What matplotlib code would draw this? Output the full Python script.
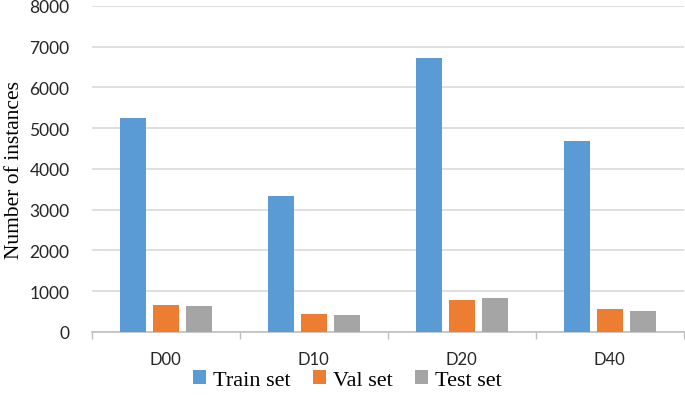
import numpy as np
import matplotlib
matplotlib.use("Agg")
import matplotlib.pyplot as plt

# values
groups = ["D00", "D10", "D20", "D40"]
train = [5250, 3340, 6715, 4695]
val = [655, 440, 785, 565]
test = [640, 425, 834, 515]
series_names = ["Train set", "Val set", "Test set"]
colors = ["#5B9BD5", "#ED7D31", "#A5A5A5"]

fig = plt.figure(figsize=(6.85, 4.02), dpi=100)
ax = fig.add_axes([0.134, 0.172, 0.864, 0.811])

x = np.arange(len(groups))
w = 0.176
step = 0.223
for i, (vals, name, c) in enumerate(zip([train, val, test], series_names, colors)):
    ax.bar(x + (i - 1) * step, vals, width=w, color=c, label=name, zorder=3)

ax.set_xlim(-0.5, len(groups) - 0.5)
ax.set_ylim(0, 8000)
ax.set_yticks(np.arange(0, 8001, 1000))
ax.yaxis.grid(True, color="#D9D9D9", lw=1.2, zorder=0)
ax.tick_params(axis="y", length=0, pad=16, labelsize=12.5, labelcolor="#262626")
for lab in ax.get_yticklabels():
    lab.set_family("Lato")

# category labels centred, ticks at the group boundaries
ax.set_xticks(x)
ax.set_xticklabels(groups, family="Lato", fontsize=12, color="#262626")
ax.tick_params(axis="x", which="major", length=0, pad=14)
ax.set_xticks(np.arange(-0.5, len(groups), 1), minor=True)
ax.tick_params(axis="x", which="minor", length=5, color="#BFBFBF", width=1)

for s in ["top", "right", "left"]:
    ax.spines[s].set_visible(False)
ax.spines["bottom"].set_color("#BFBFBF")
ax.spines["bottom"].set_linewidth(1.2)

ax.set_ylabel("Number of instances", family="Liberation Serif", fontsize=15.5, labelpad=4)

fig.legend(*ax.get_legend_handles_labels(), loc="center", bbox_to_anchor=(0.507, 0.052),
           ncol=3, frameon=False,
           prop={"family": "Liberation Serif", "size": 16},
           handlelength=0.6, handleheight=0.6, handletextpad=0.3, columnspacing=1.0)

fig.savefig("out.png", dpi=100)
